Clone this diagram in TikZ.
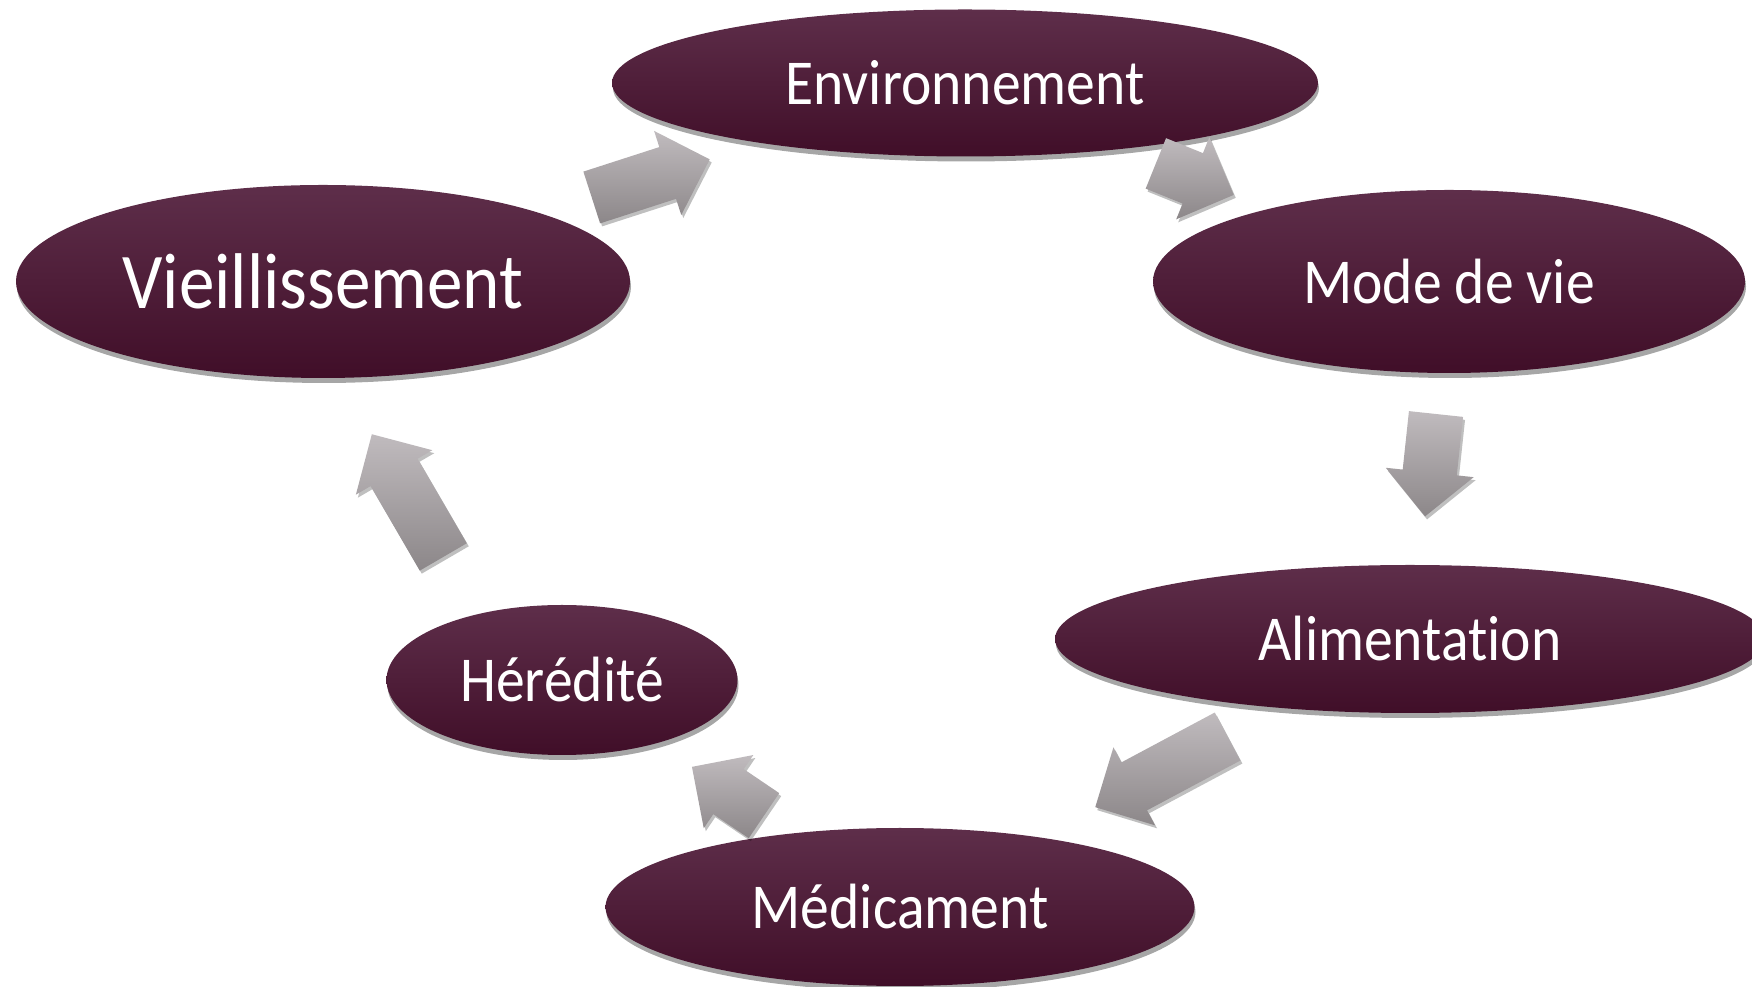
\documentclass[tikz,border=0pt]{standalone}
\usepackage{fontspec}
\setmainfont[FakeStretch=0.9, Ligatures=NoCommon]{Carlito}
\usepackage{xcolor}
\definecolor{vinotop}{RGB}{94, 46, 74}
\definecolor{vinobot}{RGB}{64, 14, 40}
\definecolor{grisclaro}{RGB}{192, 187, 190}
\definecolor{grisoscuro}{RGB}{140, 135, 137}
\usetikzlibrary{shapes.geometric, shapes.arrows, shadows}

\begin{document}
\begin{tikzpicture}[x=1pt, y=1pt,
        factor/.style={ellipse, draw=none, top color=vinotop, bottom color=vinobot, inner sep=0pt, text=white, font=\fontsize{64}{70}\selectfont, drop shadow={shadow xshift=1pt, shadow yshift=-5pt, opacity=0.35, fill=black}},
        flecha/.style 2 args={single arrow, draw=none, anchor=tip, single arrow head extend=17pt, inner xsep=0pt, inner ysep=27pt, minimum height=#1, rotate=#2, top color=grisclaro, bottom color=grisoscuro, drop shadow={shadow xshift=2pt, shadow yshift=-3pt, opacity=0.25, fill=black}}]

        \useasboundingbox (0,0) rectangle (1752,987);

        % Factores del ciclo
        \node [factor, minimum width=706, minimum height=147] (env) at (965,904) {Environnement};
        \node [factor, minimum width=592, minimum height=183] (mode) at (1449,705.5) {Mode de vie};
        \node [factor, minimum width=710, minimum height=148] (alim) at (1410,348) {Alimentation};
        \node [factor, minimum width=589, minimum height=158] (medic) at (900,80) {Médicament};
        \node [factor, minimum width=351, minimum height=150] (hered) at (562,307) {Hérédité};
        \node [factor, minimum width=614, minimum height=193, font=\fontsize{79}{86}\selectfont] (vieil) at (323,705.5) {Vieillissement};

        % Flechas entre factores (colocadas por la punta)
        \node [flecha={124}{17.9}] (f1) at (710,827.7) {};
        \node [flecha={84}{-22}] (f2) at (1234,792) {};
        \node [flecha={103}{-96.1}] (f3) at (1425,470.3) {};
        \node [flecha={150}{208.1}] (f4) at (1095,179.7) {};
        \node [flecha={87}{145.9}] (f5) at (691.7,220.3) {};
        \node [flecha={142}{120.2}] (f6) at (371.7,553) {};
    \end{tikzpicture}
\end{document}
